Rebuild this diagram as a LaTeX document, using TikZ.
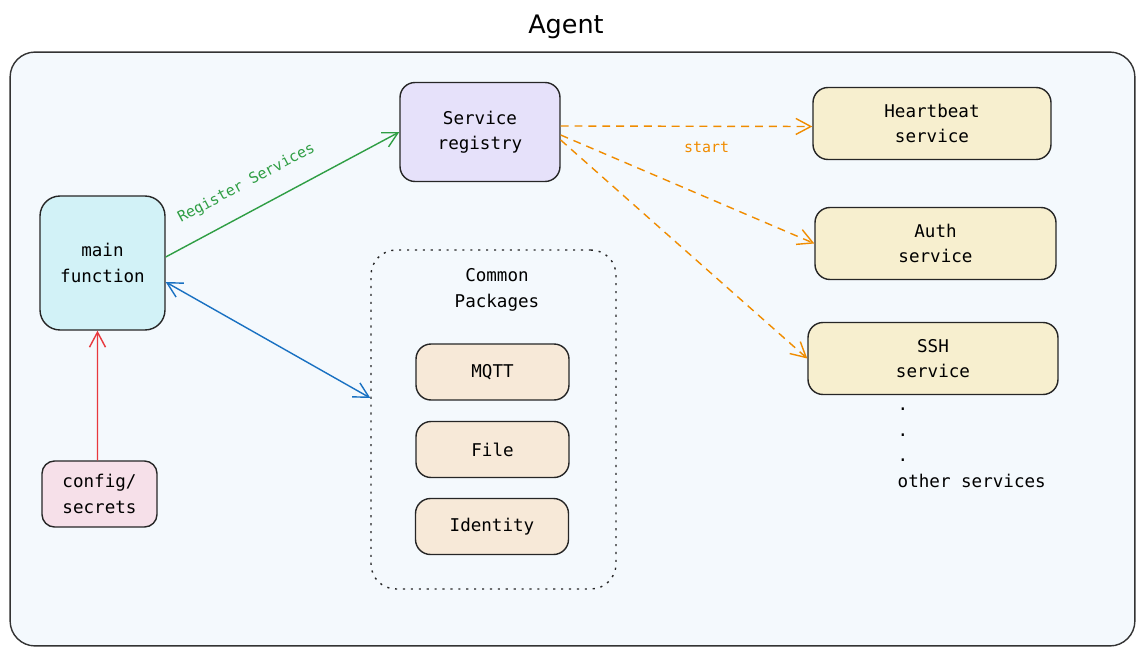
\documentclass[tikz,border=0pt]{standalone}
\usepackage{fontspec}
\setmonofont{DejaVu Sans Mono}
\newfontfamily\titlefont{DejaVu Sans}
\usetikzlibrary{arrows.meta}

\definecolor{agentbg}{HTML}{F4F9FD}
\definecolor{regfill}{HTML}{E6E1FA}
\definecolor{mainfill}{HTML}{D2F2F7}
\definecolor{cfgfill}{HTML}{F6E0E9}
\definecolor{pkgfill}{HTML}{F7E9D8}
\definecolor{srvfill}{HTML}{F7EFCF}
\definecolor{grn}{HTML}{2F9E44}
\definecolor{blu}{HTML}{1971C2}
\definecolor{rd}{HTML}{E8383D}
\definecolor{orng}{HTML}{F08C00}

\tikzstyle{blk}=[draw=black!85, line width=0.8pt, rounded corners=0.3cm, align=center, font=\ttfamily\fontsize{10}{14.5}\selectfont]
\tikzstyle{pkg}=[blk, fill=pkgfill, minimum width=3.06cm, minimum height=1.12cm]
\tikzstyle{srv}=[blk, fill=srvfill, minimum width=4.82cm, minimum height=1.44cm]
\tikzstyle{lbl}=[font=\ttfamily\fontsize{8.5}{10}\selectfont]
\tikzstyle{regedge}=[draw=grn, line width=0.8pt, ->]
\tikzstyle{pkgedge}=[draw=blu, line width=0.8pt, <->]
\tikzstyle{cfgedge}=[draw=rd, line width=0.8pt, ->]
\tikzstyle{startedge}=[draw=orng, line width=0.8pt, dash pattern=on 4.5pt off 3.4pt, ->]

\begin{document}
\begin{tikzpicture}[x=0.02cm, y=-0.02cm, >={Straight Barb[length=0.3cm, width=0.32cm]}]
        \useasboundingbox (0,0) rectangle (1144,656);

        \draw (572.5,349) node[draw=black!80, line width=0.8pt, fill=agentbg, rounded corners=0.5cm, minimum width=22.5cm, minimum height=11.88cm](agent){};
        \draw (566,27) node[font=\titlefont\fontsize{14.5}{17}\selectfont](title){Agent};
        %
        \draw (480,132) node[blk, fill=regfill, minimum width=3.2cm, minimum height=1.98cm](reg){Service\\registry};
        \draw (102.5,263) node[blk, fill=mainfill, minimum width=2.5cm, minimum height=2.68cm, rounded corners=0.4cm](main){main\\function};
        \draw (99.5,494) node[blk, fill=cfgfill, minimum width=2.3cm, minimum height=1.32cm, rounded corners=0.25cm](cfg){config/\\secrets};
        %
        \draw (493.5,419.5) node[draw=black!85, line width=0.8pt, dash pattern=on 1.2pt off 3.3pt, rounded corners=0.5cm, minimum width=4.9cm, minimum height=6.78cm](pkgs){};
        \draw (497,290) node[blk, draw=none](pkgslbl){Common\\Packages};
        \draw (492.5,372) node[pkg](mqtt){MQTT};
        \draw (492.5,449.5) node[pkg](file){File};
        \draw (492,526.5) node[pkg](ident){Identity};
        %
        \draw (932,123.5) node[srv, minimum width=4.76cm](hb){Heartbeat\\service};
        \draw (935.5,243.5) node[srv](auth){Auth\\service};
        \draw (933,358.5) node[srv, minimum width=5cm](ssh){SSH\\service};
        \draw (897,448) node[blk, draw=none, anchor=west, align=left, inner sep=0pt](others){.\\.\\.\\other services};
        %
        \path
            ([yshift=0.12cm]main.east)  edge[regedge]   node[lbl, text=grn, sloped, above=0.26cm, pos=0.4]{Register Services}    (reg.west)
            ([yshift=-0.38cm]main.east) edge[pkgedge]                                                                        ([yshift=0.43cm]pkgs.west)
            ([xshift=-0.04cm]cfg.north) edge[cfgedge]                                                                        ([xshift=-0.1cm]main.south)
            ([yshift=0.12cm]reg.east)   edge[startedge] node[lbl, text=orng, below=0.18cm, pos=0.58]{start}                  ([yshift=-0.06cm]hb.west)
            ([yshift=-0.06cm]reg.east)  edge[startedge]                                                                      (auth.west)
            ([yshift=-0.16cm]reg.east)  edge[startedge]                                                                      (ssh.west)
        ;
      \end{tikzpicture}
\end{document}
